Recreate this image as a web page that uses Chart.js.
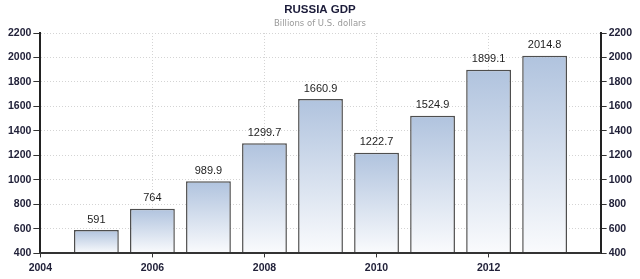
<!DOCTYPE html>
<html lang="en">
<head>
    <meta charset="UTF-8">
    <title>Russia GDP</title>
    <script src="https://cdn.jsdelivr.net/npm/chart.js"></script>
    <style>
        body {
            margin: 0;
            padding: 0;
            background: #fff;
        }

        .chart-box {
            width: 640px;
            height: 279px;
        }
    </style>
</head>
<body>
    <div class="chart-box">
        <canvas id="gdpChart"></canvas>
    </div>

    <script>
        // Data
        const years = [2005, 2006, 2007, 2008, 2009, 2010, 2011, 2012, 2013];
        const gdp = [591, 764, 989.9, 1299.7, 1660.9, 1222.7, 1524.9, 1899.1, 2014.8];
        const yearTicks = [2004, 2006, 2008, 2010, 2012];
        const yMin = 400;
        const yMax = 2200;
        const yStep = 200;

        const tickFont = { family: 'Liberation Sans, Arial, sans-serif', size: 10.5, weight: 'bold' };
        const tickColor = '#22223a';
        const gridColor = '#d4d4d4';

        // gradient from steel blue (top of bar) to almost white (base)
        const barFill = (ctx) => {
            const chart = ctx.chart;
            if (!chart.chartArea || !ctx.raw) return '#b4c6df';
            const top = chart.scales.y.getPixelForValue(ctx.raw.y);
            const bottom = chart.chartArea.bottom;
            const g = chart.ctx.createLinearGradient(0, top, 0, bottom);
            g.addColorStop(0, '#b0c3de');
            g.addColorStop(1, '#fafbfd');
            return g;
        };

        // value labels above each bar
        const valueLabels = {
            id: 'valueLabels',
            afterDatasetsDraw(chart) {
                const ctx = chart.ctx;
                const meta = chart.getDatasetMeta(0);
                ctx.save();
                ctx.font = '11px "Liberation Sans", Arial, sans-serif';
                ctx.fillStyle = '#1e1e1e';
                ctx.textAlign = 'center';
                ctx.textBaseline = 'bottom';
                meta.data.forEach((bar, i) => {
                    ctx.fillText(String(gdp[i]), bar.x, bar.y - 5);
                });
                ctx.restore();
            }
        };

        new Chart(document.getElementById('gdpChart'), {
            type: 'bar',
            data: {
                datasets: [{
                    data: years.map((yr, i) => ({ x: yr, y: gdp[i] })),
                    backgroundColor: barFill,
                    borderColor: '#4e4e4e',
                    borderWidth: 1.5,
                    borderSkipped: 'bottom',
                    barPercentage: 1,
                    categoryPercentage: 0.8
                }]
            },
            options: {
                responsive: true,
                maintainAspectRatio: false,
                animation: false,
                layout: {
                    padding: { left: 6, right: 6, top: 0, bottom: 1 }
                },
                plugins: {
                    legend: { display: false },
                    tooltip: { enabled: false },
                    title: {
                        display: true,
                        text: 'RUSSIA GDP',
                        color: '#1c1c3a',
                        font: { family: 'Liberation Sans, Arial, sans-serif', size: 11.5, weight: 'bold' },
                        padding: { top: 3, bottom: 2 }
                    },
                    subtitle: {
                        display: true,
                        text: 'Billions of U.S. dollars',
                        color: '#9a9a9a',
                        font: { family: 'DejaVu Sans, sans-serif', size: 8.5 },
                        padding: { top: 0, bottom: 4 }
                    }
                },
                scales: {
                    x: {
                        type: 'linear',
                        min: 2004,
                        max: 2014,
                        offset: false,
                        afterBuildTicks: (axis) => {
                            axis.ticks = yearTicks.map(v => ({ value: v }));
                        },
                        ticks: {
                            callback: (v) => String(v),
                            font: tickFont,
                            color: tickColor,
                            padding: 4,
                            maxRotation: 0
                        },
                        grid: {
                            offset: false,
                            color: gridColor,
                            tickColor: '#333',
                            tickLength: 4,
                            tickBorderDash: []
                        },
                        border: { color: '#333', width: 2, dash: [1, 2], z: 1 }
                    },
                    y: {
                        position: 'left',
                        min: yMin,
                        max: yMax,
                        ticks: {
                            stepSize: yStep,
                            callback: (v) => String(v),
                            font: tickFont,
                            color: tickColor,
                            padding: 2
                        },
                        grid: {
                            color: gridColor,
                            tickColor: '#333',
                            tickLength: 7,
                            tickBorderDash: []
                        },
                        border: { color: '#222', width: 2, dash: [1, 2] }
                    },
                    y2: {
                        position: 'right',
                        min: yMin,
                        max: yMax,
                        ticks: {
                            stepSize: yStep,
                            callback: (v) => String(v),
                            font: tickFont,
                            color: tickColor,
                            padding: 2
                        },
                        grid: {
                            drawOnChartArea: false,
                            tickColor: '#333',
                            tickLength: 6
                        },
                        border: { color: '#222', width: 2 }
                    }
                }
            },
            plugins: [valueLabels]
        });
    </script>
</body>
</html>
